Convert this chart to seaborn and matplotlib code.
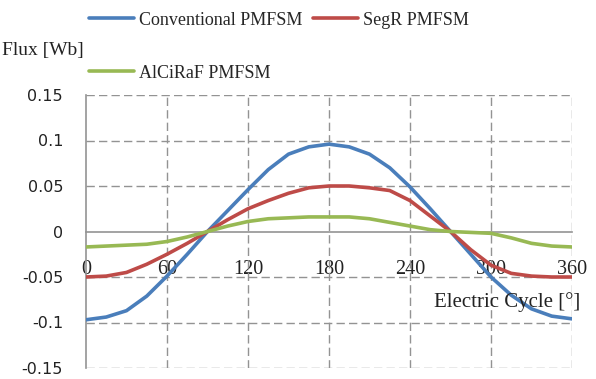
import numpy as np
import pandas as pd
import seaborn as sns
import matplotlib.pyplot as plt
from matplotlib.lines import Line2D

# datos
angulo = [0, 15, 30, 45, 60, 75, 90, 105, 120, 135, 150, 165, 180,
          195, 210, 225, 240, 255, 270, 285, 300, 315, 330, 345, 360]
conventional = [-0.097, -0.094, -0.087, -0.071, -0.049, -0.025, 0.000, 0.023, 0.046, 0.068, 0.085, 0.093, 0.096,
                0.093, 0.085, 0.070, 0.049, 0.025, 0.000, -0.025, -0.050, -0.070, -0.085, -0.093, -0.096]
segr = [-0.050, -0.049, -0.045, -0.036, -0.025, -0.013, 0.000, 0.013, 0.025, 0.034, 0.042, 0.048, 0.050,
        0.050, 0.048, 0.045, 0.034, 0.017, 0.000, -0.020, -0.037, -0.046, -0.049, -0.050, -0.050]
alciraf = [-0.017, -0.016, -0.015, -0.014, -0.011, -0.006, 0.000, 0.006, 0.011, 0.014, 0.015, 0.016, 0.016,
           0.016, 0.014, 0.010, 0.006, 0.002, 0.000, -0.001, -0.002, -0.007, -0.013, -0.016, -0.017]
nombres = ['Conventional PMFSM', 'SegR PMFSM', 'AlCiRaF PMFSM']
colores = ['#4A7EBB', '#BE4B48', '#98B954']
xticks = [0, 60, 120, 180, 240, 300, 360]
yticks = [-0.15, -0.1, -0.05, 0, 0.05, 0.1, 0.15]
yticklabels = ['-0.15', '-0.1', '-0.05', '0', '0.05', '0.1', '0.15']

df = pd.DataFrame({
    'Angulo': angulo * 3,
    'Flux': conventional + segr + alciraf,
    'Motor': [nombres[0]] * len(angulo) + [nombres[1]] * len(angulo) + [nombres[2]] * len(angulo),
})

sns.set_style('white')
plt.rcParams['font.family'] = ['DejaVu Sans']

fig = plt.figure(figsize=(5.96, 3.79), dpi=100)
ax = fig.add_axes([86 / 596, 1 - 368 / 379, (572 - 86) / 596, (368 - 95) / 379])

sns.lineplot(data=df, x='Angulo', y='Flux', hue='Motor', palette=colores,
             linewidth=2.6, legend=False, ax=ax, zorder=3)

ax.set_xlim(0, 360)
ax.set_ylim(-0.15, 0.15)
ax.set_xticks(xticks)
ax.set_yticks(yticks)
ax.set_yticklabels(yticklabels)
ax.set_xlabel('')
ax.set_ylabel('')

# rejilla discontinua
gris = '#939393'
for v in xticks[1:]:
    ax.axvline(v, color=gris, linestyle=(0, (6, 3)), linewidth=1, zorder=1)
for v in yticks:
    if v != 0:
        ax.axhline(v, color=gris, linestyle=(0, (6, 3)), linewidth=1, zorder=1)

for s in ['top', 'right']:
    ax.spines[s].set_visible(False)
ax.spines['left'].set_color(gris)
ax.spines['left'].set_linewidth(1.2)
ax.spines['bottom'].set_position(('data', 0))
ax.spines['bottom'].set_color(gris)
ax.spines['bottom'].set_linewidth(1.2)

ax.tick_params(axis='x', direction='inout', length=6, width=1, color=gris,
               pad=17.5, labelsize=14.5, labelcolor='#222222')
ax.tick_params(axis='y', direction='out', length=4, width=1, color=gris,
               pad=12.5, labelsize=11.5, labelcolor='#222222')
for lbl in ax.get_xticklabels():
    lbl.set_fontfamily('Liberation Serif')

fig.text(580 / 596, 1 - 302 / 379, 'Electric Cycle [°]', ha='right', va='center',
         fontsize=15, family='Liberation Serif', color='#222222')
fig.text(2 / 596, 1 - 50 / 379, 'Flux [Wb]', ha='left', va='center',
         fontsize=14, family='Liberation Serif', color='#222222')

handles = [Line2D([], [], color=colores[0], linewidth=2.6),
           Line2D([], [], color=colores[2], linewidth=2.6),
           Line2D([], [], color=colores[1], linewidth=2.6)]
etiquetas = [nombres[0], nombres[2], nombres[1]]
fig.legend(handles, etiquetas, ncol=2, loc='upper left', bbox_to_anchor=(73 / 596, 1.012),
           frameon=False, handlelength=2.5, handletextpad=0.27, columnspacing=0.55,
           labelspacing=2.0, prop={'family': 'Liberation Serif', 'size': 13})

fig.savefig('out.png', dpi=100)
